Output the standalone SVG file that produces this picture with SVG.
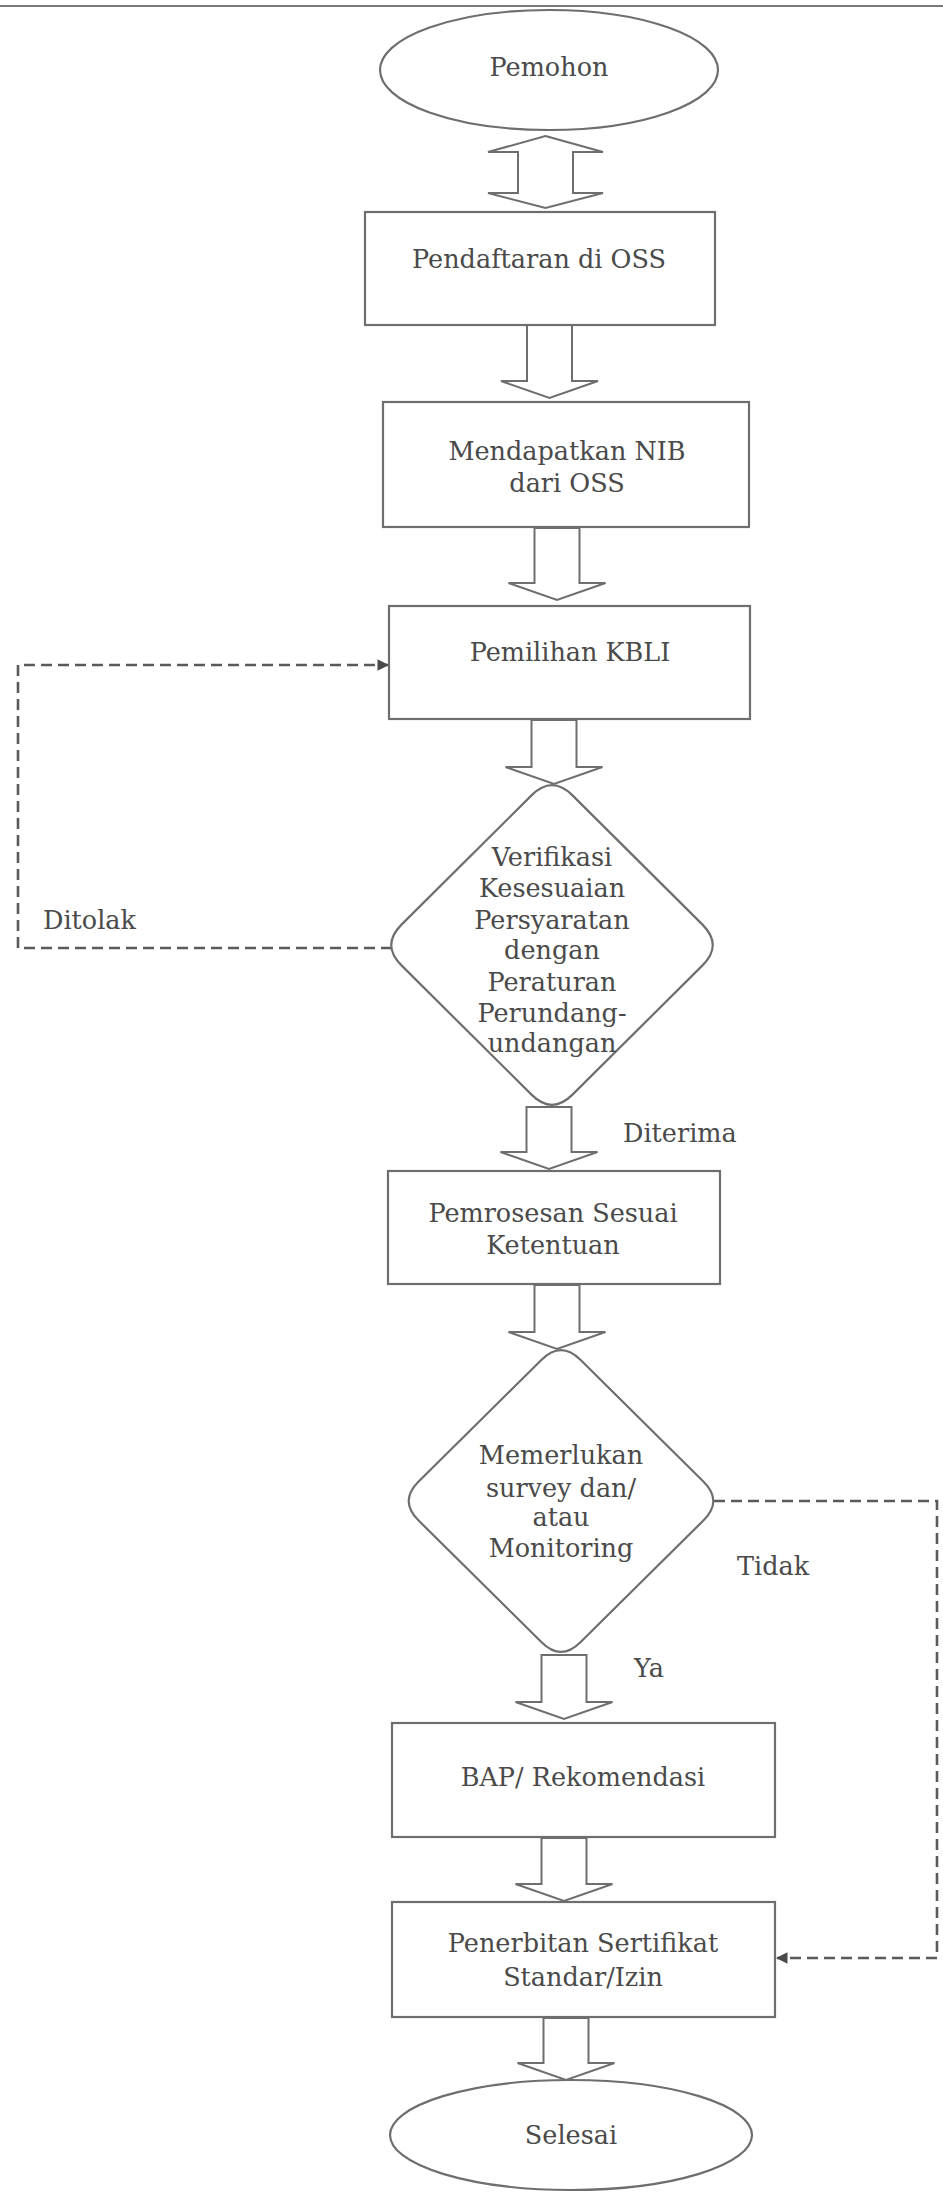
<svg xmlns="http://www.w3.org/2000/svg" width="943" height="2193" viewBox="0 0 943 2193">
<defs>
<style>
.shape{fill:#ffffff;stroke:#6e6e6e;stroke-width:2.2}
.blk{fill:#ffffff;stroke:#6e6e6e;stroke-width:2}
.dash{fill:none;stroke:#5a5a5a;stroke-width:2.6;stroke-dasharray:11 6}
.t{font-family:"DejaVu Serif","Liberation Serif",serif;font-size:25.5px;fill:#4a4a4a}
.c{text-anchor:middle}
</style>
<marker id="ah" viewBox="0 0 10 10" refX="9" refY="5" markerWidth="4.5" markerHeight="4.5" orient="auto" markerUnits="strokeWidth">
<path d="M0,0 L10,5 L0,10 Z" fill="#4a4a4a"/>
</marker>
</defs>
<rect width="943" height="2193" fill="#ffffff"/>
<line x1="0" y1="6" x2="943" y2="6" stroke="#7a7a7a" stroke-width="2"/>

<g id="connectors">
<polygon class="blk" points="545.5,136 603,152 573,152 573,193 603,193 545.5,208 488,193 518,193 518,152 488,152"/>
<polygon class="blk" points="527,325 572,325 572,381 598,381 549.5,398 501,381 527,381"/>
<polygon class="blk" points="534.5,528 579.5,528 579.5,583 605.5,583 557,600 508.5,583 534.5,583"/>
<polygon class="blk" points="531.5,720 576.5,720 576.5,767 602.5,767 554,784 505.5,767 531.5,767"/>
<polygon class="blk" points="526.5,1107 571.5,1107 571.5,1152 597.5,1152 549,1169 500.5,1152 526.5,1152"/>
<polygon class="blk" points="534.5,1285 579.5,1285 579.5,1332 605.5,1332 557,1349 508.5,1332 534.5,1332"/>
<polygon class="blk" points="541.5,1655 586.5,1655 586.5,1702 612.5,1702 564,1719 515.5,1702 541.5,1702"/>
<polygon class="blk" points="541.5,1838 586.5,1838 586.5,1884 612.5,1884 564,1901 515.5,1884 541.5,1884"/>
<polygon class="blk" points="543.5,2018 588.5,2018 588.5,2063 614.5,2063 566,2080 517.5,2063 543.5,2063"/>
<polyline class="dash" points="392,948 18,948 18,665 388,665" marker-end="url(#ah)"/>
<polyline class="dash" points="714,1501 937,1501 937,1958 777,1958" marker-end="url(#ah)"/>
<text class="t" x="43" y="929">Ditolak</text>
<text class="t" x="623" y="1142">Diterima</text>
<text class="t" x="737" y="1575">Tidak</text>
<text class="t" x="634" y="1677">Ya</text>
</g>

<g id="pemohon">
<ellipse class="shape" cx="549" cy="70" rx="169" ry="60"/>
<text class="t c" x="549" y="76">Pemohon</text>
</g>

<g id="pendaftaran">
<rect class="shape" x="365" y="212" width="350" height="113"/>
<text class="t c" x="539" y="268">Pendaftaran di OSS</text>
</g>

<g id="nib">
<rect class="shape" x="383" y="402" width="366" height="125"/>
<text class="t c" x="567" y="460">Mendapatkan NIB</text>
<text class="t c" x="567" y="492">dari OSS</text>
</g>

<g id="kbli">
<rect class="shape" x="389" y="606" width="361" height="113"/>
<text class="t c" x="570" y="661">Pemilihan KBLI</text>
</g>

<g id="verifikasi">
<path class="shape" d="M572.5,795.4 L702.5,924.6 Q723,945 702.5,965.4 L572.5,1094.6 Q552,1115 531.5,1094.6 L401.5,965.4 Q381,945 401.5,924.6 L531.5,795.4 Q552,775 572.5,795.4 Z"/>
<text class="t c" x="552" y="866">Verifikasi</text>
<text class="t c" x="552" y="897">Kesesuaian</text>
<text class="t c" x="552" y="929">Persyaratan</text>
<text class="t c" x="552" y="959">dengan</text>
<text class="t c" x="552" y="991">Peraturan</text>
<text class="t c" x="552" y="1022">Perundang-</text>
<text class="t c" x="552" y="1052">undangan</text>
</g>

<g id="pemrosesan">
<rect class="shape" x="388" y="1171" width="332" height="113"/>
<text class="t c" x="553" y="1222">Pemrosesan Sesuai</text>
<text class="t c" x="553" y="1254">Ketentuan</text>
</g>

<g id="survey">
<path class="shape" d="M580.4,1359.7 L703.6,1481.7 Q723,1501 703.6,1520.3 L580.4,1642.3 Q561,1661.6 541.6,1642.3 L418.4,1520.3 Q399,1501 418.4,1481.7 L541.6,1359.7 Q561,1340.4 580.4,1359.7 Z"/>
<text class="t c" x="561" y="1464">Memerlukan</text>
<text class="t c" x="561" y="1497">survey dan/</text>
<text class="t c" x="561" y="1526">atau</text>
<text class="t c" x="561" y="1557">Monitoring</text>
</g>

<g id="bap">
<rect class="shape" x="392" y="1723" width="383" height="114"/>
<text class="t c" x="583" y="1786">BAP/ Rekomendasi</text>
</g>

<g id="penerbitan">
<rect class="shape" x="392" y="1902" width="383" height="115"/>
<text class="t c" x="583" y="1952">Penerbitan Sertifikat</text>
<text class="t c" x="583" y="1986">Standar/Izin</text>
</g>

<g id="selesai">
<ellipse class="shape" cx="571" cy="2135" rx="181" ry="55"/>
<text class="t c" x="571" y="2144">Selesai</text>
</g>
</svg>
